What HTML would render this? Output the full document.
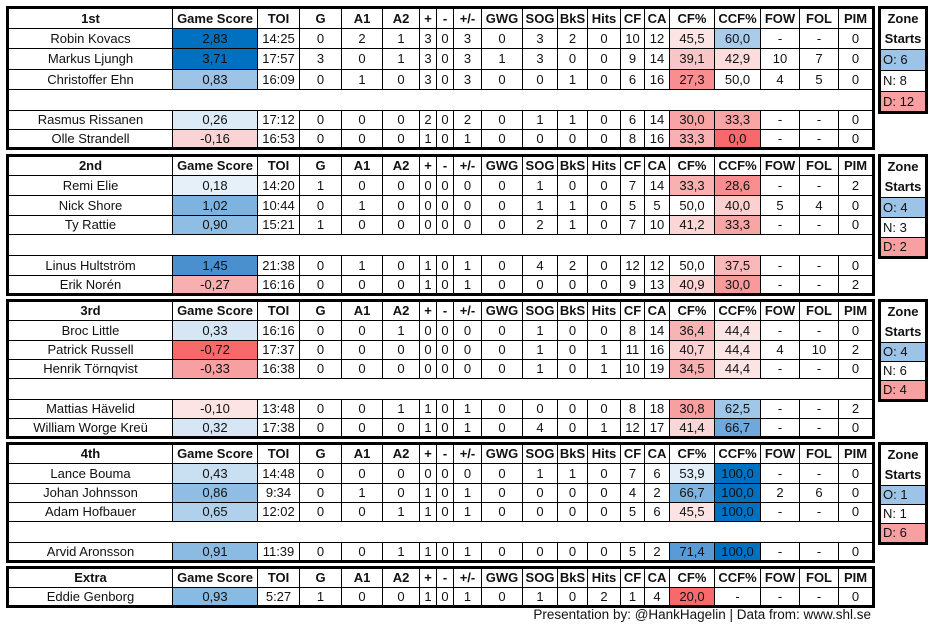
<!DOCTYPE html>
<html><head><meta charset="utf-8"><style>
body{margin:0;width:933px;height:632px;background:#fff;position:relative;overflow:hidden;font-family:"Liberation Sans",sans-serif;font-size:13px;color:#111}
table{position:absolute;border-collapse:collapse;table-layout:fixed;border:3px solid #000}
td{border:1px solid #000;text-align:center;padding:0;white-space:nowrap;overflow:hidden;line-height:16px}
tr.h td{font-weight:bold}
.m{left:6px;width:869px}
.z{left:878px;width:50px}
.z td{text-align:left;padding-left:2px}
.z td.zh{text-align:center;font-weight:bold;line-height:20px;padding:0}
.e td{border-left:none;border-right:none}
.ft{position:absolute;right:62px;top:607px;font-size:13.5px}
</style></head><body>
<table class="m" style="top:6px">
<colgroup><col style="width:165px"><col style="width:85px"><col style="width:42px"><col style="width:42px"><col style="width:41px"><col style="width:37px"><col style="width:17px"><col style="width:17px"><col style="width:28px"><col style="width:41px"><col style="width:35px"><col style="width:30px"><col style="width:33px"><col style="width:24px"><col style="width:25px"><col style="width:45px"><col style="width:46px"><col style="width:39px"><col style="width:39px"><col style="width:35px"></colgroup>
<tr class="h" style="height:21px"><td>1st</td><td>Game Score</td><td>TOI</td><td>G</td><td>A1</td><td>A2</td><td>+</td><td>-</td><td>+/-</td><td>GWG</td><td>SOG</td><td>BkS</td><td>Hits</td><td>CF</td><td>CA</td><td>CF%</td><td>CCF%</td><td>FOW</td><td>FOL</td><td>PIM</td></tr>
<tr style="height:20px"><td>Robin Kovacs</td><td style="background:#0070C0">2,83</td><td>14:25</td><td>0</td><td>2</td><td>1</td><td>3</td><td>0</td><td>3</td><td>0</td><td>3</td><td>2</td><td>0</td><td>10</td><td>12</td><td style="background:#FCE4E4">45,5</td><td style="background:#A9CCEB">60,0</td><td>-</td><td>-</td><td>0</td></tr>
<tr style="height:21px"><td>Markus Ljungh</td><td style="background:#0070C0">3,71</td><td>17:57</td><td>3</td><td>0</td><td>1</td><td>3</td><td>0</td><td>3</td><td>1</td><td>3</td><td>0</td><td>0</td><td>9</td><td>14</td><td style="background:#F9C6C7">39,1</td><td style="background:#FCDCDC">42,9</td><td>10</td><td>7</td><td>0</td></tr>
<tr style="height:20px"><td>Christoffer Ehn</td><td style="background:#9DC3E6">0,83</td><td>16:09</td><td>0</td><td>1</td><td>0</td><td>3</td><td>0</td><td>3</td><td>0</td><td>0</td><td>1</td><td>0</td><td>6</td><td>16</td><td style="background:#F88E90">27,3</td><td>50,0</td><td>4</td><td>5</td><td>0</td></tr>
<tr class="e" style="height:21px"><td colspan="20"></td></tr>
<tr style="height:19px"><td>Rasmus Rissanen</td><td style="background:#DDEBF7">0,26</td><td>17:12</td><td>0</td><td>0</td><td>0</td><td>2</td><td>0</td><td>2</td><td>0</td><td>1</td><td>1</td><td>0</td><td>6</td><td>14</td><td style="background:#F8A3A4">30,0</td><td style="background:#F8A5A6">33,3</td><td>-</td><td>-</td><td>0</td></tr>
<tr style="height:19px"><td>Olle Strandell</td><td style="background:#FAD4D4">-0,16</td><td>16:53</td><td>0</td><td>0</td><td>0</td><td>1</td><td>0</td><td>1</td><td>0</td><td>0</td><td>0</td><td>0</td><td>8</td><td>16</td><td style="background:#F9B0B1">33,3</td><td style="background:#F8696B">0,0</td><td>-</td><td>-</td><td>0</td></tr>
</table>

<table class="m" style="top:154px">
<colgroup><col style="width:165px"><col style="width:85px"><col style="width:42px"><col style="width:42px"><col style="width:41px"><col style="width:37px"><col style="width:17px"><col style="width:17px"><col style="width:28px"><col style="width:41px"><col style="width:35px"><col style="width:30px"><col style="width:33px"><col style="width:24px"><col style="width:25px"><col style="width:45px"><col style="width:46px"><col style="width:39px"><col style="width:39px"><col style="width:35px"></colgroup>
<tr class="h" style="height:20px"><td>2nd</td><td>Game Score</td><td>TOI</td><td>G</td><td>A1</td><td>A2</td><td>+</td><td>-</td><td>+/-</td><td>GWG</td><td>SOG</td><td>BkS</td><td>Hits</td><td>CF</td><td>CA</td><td>CF%</td><td>CCF%</td><td>FOW</td><td>FOL</td><td>PIM</td></tr>
<tr style="height:20px"><td>Remi Elie</td><td style="background:#E6F0F9">0,18</td><td>14:20</td><td>1</td><td>0</td><td>0</td><td>0</td><td>0</td><td>0</td><td>0</td><td>1</td><td>0</td><td>0</td><td>7</td><td>14</td><td style="background:#F9B0B1">33,3</td><td style="background:#F88E90">28,6</td><td>-</td><td>-</td><td>2</td></tr>
<tr style="height:20px"><td>Nick Shore</td><td style="background:#7DB3E0">1,02</td><td>10:44</td><td>0</td><td>1</td><td>0</td><td>0</td><td>0</td><td>0</td><td>0</td><td>1</td><td>1</td><td>0</td><td>5</td><td>5</td><td>50,0</td><td style="background:#FAD0D0">40,0</td><td>5</td><td>4</td><td>0</td></tr>
<tr style="height:19px"><td>Ty Rattie</td><td style="background:#8EBEE3">0,90</td><td>15:21</td><td>1</td><td>0</td><td>0</td><td>0</td><td>0</td><td>0</td><td>0</td><td>2</td><td>1</td><td>0</td><td>7</td><td>10</td><td style="background:#FBD6D6">41,2</td><td style="background:#F8A5A6">33,3</td><td>-</td><td>-</td><td>0</td></tr>
<tr class="e" style="height:21px"><td colspan="20"></td></tr>
<tr style="height:20px"><td>Linus Hultström</td><td style="background:#4A90CE">1,45</td><td>21:38</td><td>0</td><td>1</td><td>0</td><td>1</td><td>0</td><td>1</td><td>0</td><td>4</td><td>2</td><td>0</td><td>12</td><td>12</td><td>50,0</td><td style="background:#F9B9BA">37,5</td><td>-</td><td>-</td><td>0</td></tr>
<tr style="height:19px"><td>Erik Norén</td><td style="background:#F8AFB0">-0,27</td><td>16:16</td><td>0</td><td>0</td><td>0</td><td>1</td><td>0</td><td>1</td><td>0</td><td>0</td><td>0</td><td>0</td><td>9</td><td>13</td><td style="background:#FBD4D4">40,9</td><td style="background:#F89A9B">30,0</td><td>-</td><td>-</td><td>2</td></tr>
</table>

<table class="m" style="top:299px">
<colgroup><col style="width:165px"><col style="width:85px"><col style="width:42px"><col style="width:42px"><col style="width:41px"><col style="width:37px"><col style="width:17px"><col style="width:17px"><col style="width:28px"><col style="width:41px"><col style="width:35px"><col style="width:30px"><col style="width:33px"><col style="width:24px"><col style="width:25px"><col style="width:45px"><col style="width:46px"><col style="width:39px"><col style="width:39px"><col style="width:35px"></colgroup>
<tr class="h" style="height:20px"><td>3rd</td><td>Game Score</td><td>TOI</td><td>G</td><td>A1</td><td>A2</td><td>+</td><td>-</td><td>+/-</td><td>GWG</td><td>SOG</td><td>BkS</td><td>Hits</td><td>CF</td><td>CA</td><td>CF%</td><td>CCF%</td><td>FOW</td><td>FOL</td><td>PIM</td></tr>
<tr style="height:20px"><td>Broc Little</td><td style="background:#D6E6F5">0,33</td><td>16:16</td><td>0</td><td>0</td><td>1</td><td>0</td><td>0</td><td>0</td><td>0</td><td>1</td><td>0</td><td>0</td><td>8</td><td>14</td><td style="background:#F8B3B4">36,4</td><td style="background:#FCE4E4">44,4</td><td>-</td><td>-</td><td>0</td></tr>
<tr style="height:19px"><td>Patrick Russell</td><td style="background:#F8696B">-0,72</td><td>17:37</td><td>0</td><td>0</td><td>0</td><td>0</td><td>0</td><td>0</td><td>0</td><td>1</td><td>0</td><td>1</td><td>11</td><td>16</td><td style="background:#FAD0D0">40,7</td><td style="background:#FCE4E4">44,4</td><td>4</td><td>10</td><td>2</td></tr>
<tr style="height:19px"><td>Henrik Törnqvist</td><td style="background:#F8A0A1">-0,33</td><td>16:38</td><td>0</td><td>0</td><td>0</td><td>0</td><td>0</td><td>0</td><td>0</td><td>1</td><td>0</td><td>1</td><td>10</td><td>19</td><td style="background:#F8AFB0">34,5</td><td style="background:#FCE4E4">44,4</td><td>-</td><td>-</td><td>0</td></tr>
<tr class="e" style="height:21px"><td colspan="20"></td></tr>
<tr style="height:19px"><td>Mattias Hävelid</td><td style="background:#FCE4E4">-0,10</td><td>13:48</td><td>0</td><td>0</td><td>1</td><td>1</td><td>0</td><td>1</td><td>0</td><td>0</td><td>0</td><td>0</td><td>8</td><td>18</td><td style="background:#F89FA0">30,8</td><td style="background:#A0C6E8">62,5</td><td>-</td><td>-</td><td>2</td></tr>
<tr style="height:19px"><td>William Worge Kreü</td><td style="background:#D6E6F5">0,32</td><td>17:38</td><td>0</td><td>0</td><td>0</td><td>1</td><td>0</td><td>1</td><td>0</td><td>4</td><td>0</td><td>1</td><td>12</td><td>17</td><td style="background:#FBD6D6">41,4</td><td style="background:#6FA8DC">66,7</td><td>-</td><td>-</td><td>0</td></tr>
</table>

<table class="m" style="top:442px">
<colgroup><col style="width:165px"><col style="width:85px"><col style="width:42px"><col style="width:42px"><col style="width:41px"><col style="width:37px"><col style="width:17px"><col style="width:17px"><col style="width:28px"><col style="width:41px"><col style="width:35px"><col style="width:30px"><col style="width:33px"><col style="width:24px"><col style="width:25px"><col style="width:45px"><col style="width:46px"><col style="width:39px"><col style="width:39px"><col style="width:35px"></colgroup>
<tr class="h" style="height:20px"><td>4th</td><td>Game Score</td><td>TOI</td><td>G</td><td>A1</td><td>A2</td><td>+</td><td>-</td><td>+/-</td><td>GWG</td><td>SOG</td><td>BkS</td><td>Hits</td><td>CF</td><td>CA</td><td>CF%</td><td>CCF%</td><td>FOW</td><td>FOL</td><td>PIM</td></tr>
<tr style="height:20px"><td>Lance Bouma</td><td style="background:#C9DFF2">0,43</td><td>14:48</td><td>0</td><td>0</td><td>0</td><td>0</td><td>0</td><td>0</td><td>0</td><td>1</td><td>1</td><td>0</td><td>7</td><td>6</td><td style="background:#E2EEF8">53,9</td><td style="background:#0070C0">100,0</td><td>-</td><td>-</td><td>0</td></tr>
<tr style="height:19px"><td>Johan Johnsson</td><td style="background:#8FBDE3">0,86</td><td>9:34</td><td>0</td><td>1</td><td>0</td><td>1</td><td>0</td><td>1</td><td>0</td><td>0</td><td>0</td><td>0</td><td>4</td><td>2</td><td style="background:#7FB3E0">66,7</td><td style="background:#0070C0">100,0</td><td>2</td><td>6</td><td>0</td></tr>
<tr style="height:19px"><td>Adam Hofbauer</td><td style="background:#B0D0EC">0,65</td><td>12:02</td><td>0</td><td>0</td><td>1</td><td>1</td><td>0</td><td>1</td><td>0</td><td>0</td><td>0</td><td>0</td><td>5</td><td>6</td><td style="background:#FCE4E4">45,5</td><td style="background:#0070C0">100,0</td><td>-</td><td>-</td><td>0</td></tr>
<tr class="e" style="height:21px"><td colspan="20"></td></tr>
<tr style="height:19px"><td>Arvid Aronsson</td><td style="background:#8BBBE2">0,91</td><td>11:39</td><td>0</td><td>0</td><td>1</td><td>1</td><td>0</td><td>1</td><td>0</td><td>0</td><td>0</td><td>0</td><td>5</td><td>2</td><td style="background:#5B9BD5">71,4</td><td style="background:#0070C0">100,0</td><td>-</td><td>-</td><td>0</td></tr>
</table>

<table class="m" style="top:566px">
<colgroup><col style="width:165px"><col style="width:85px"><col style="width:42px"><col style="width:42px"><col style="width:41px"><col style="width:37px"><col style="width:17px"><col style="width:17px"><col style="width:28px"><col style="width:41px"><col style="width:35px"><col style="width:30px"><col style="width:33px"><col style="width:24px"><col style="width:25px"><col style="width:45px"><col style="width:46px"><col style="width:39px"><col style="width:39px"><col style="width:35px"></colgroup>
<tr class="h" style="height:20px"><td>Extra</td><td>Game Score</td><td>TOI</td><td>G</td><td>A1</td><td>A2</td><td>+</td><td>-</td><td>+/-</td><td>GWG</td><td>SOG</td><td>BkS</td><td>Hits</td><td>CF</td><td>CA</td><td>CF%</td><td>CCF%</td><td>FOW</td><td>FOL</td><td>PIM</td></tr>
<tr style="height:19px"><td>Eddie Genborg</td><td style="background:#88BAE2">0,93</td><td>5:27</td><td>1</td><td>0</td><td>0</td><td>1</td><td>0</td><td>1</td><td>0</td><td>1</td><td>0</td><td>2</td><td>1</td><td>4</td><td style="background:#F8696B">20,0</td><td>-</td><td>-</td><td>-</td><td>0</td></tr>
</table>

<table class="z" style="top:6px">
<tr style="height:41px"><td class="zh">Zone<br>Starts</td></tr>
<tr style="height:21px"><td style="background:#9DC3E6">O: 6</td></tr>
<tr style="height:21px"><td>N: 8</td></tr>
<tr style="height:21px"><td style="background:#F8A0A1">D: 12</td></tr>
</table>
<table class="z" style="top:154px">
<tr style="height:40px"><td class="zh">Zone<br>Starts</td></tr>
<tr style="height:20px"><td style="background:#9DC3E6">O: 4</td></tr>
<tr style="height:20px"><td>N: 3</td></tr>
<tr style="height:20px"><td style="background:#F8A0A1">D: 2</td></tr>
</table>
<table class="z" style="top:299px">
<tr style="height:40px"><td class="zh">Zone<br>Starts</td></tr>
<tr style="height:19px"><td style="background:#9DC3E6">O: 4</td></tr>
<tr style="height:19px"><td>N: 6</td></tr>
<tr style="height:20px"><td style="background:#F8A0A1">D: 4</td></tr>
</table>
<table class="z" style="top:442px">
<tr style="height:40px"><td class="zh">Zone<br>Starts</td></tr>
<tr style="height:19px"><td style="background:#9DC3E6">O: 1</td></tr>
<tr style="height:19px"><td>N: 1</td></tr>
<tr style="height:20px"><td style="background:#F8A0A1">D: 6</td></tr>
</table>

<div class="ft">Presentation by: @HankHagelin | Data from: www.shl.se</div>
</body></html>
